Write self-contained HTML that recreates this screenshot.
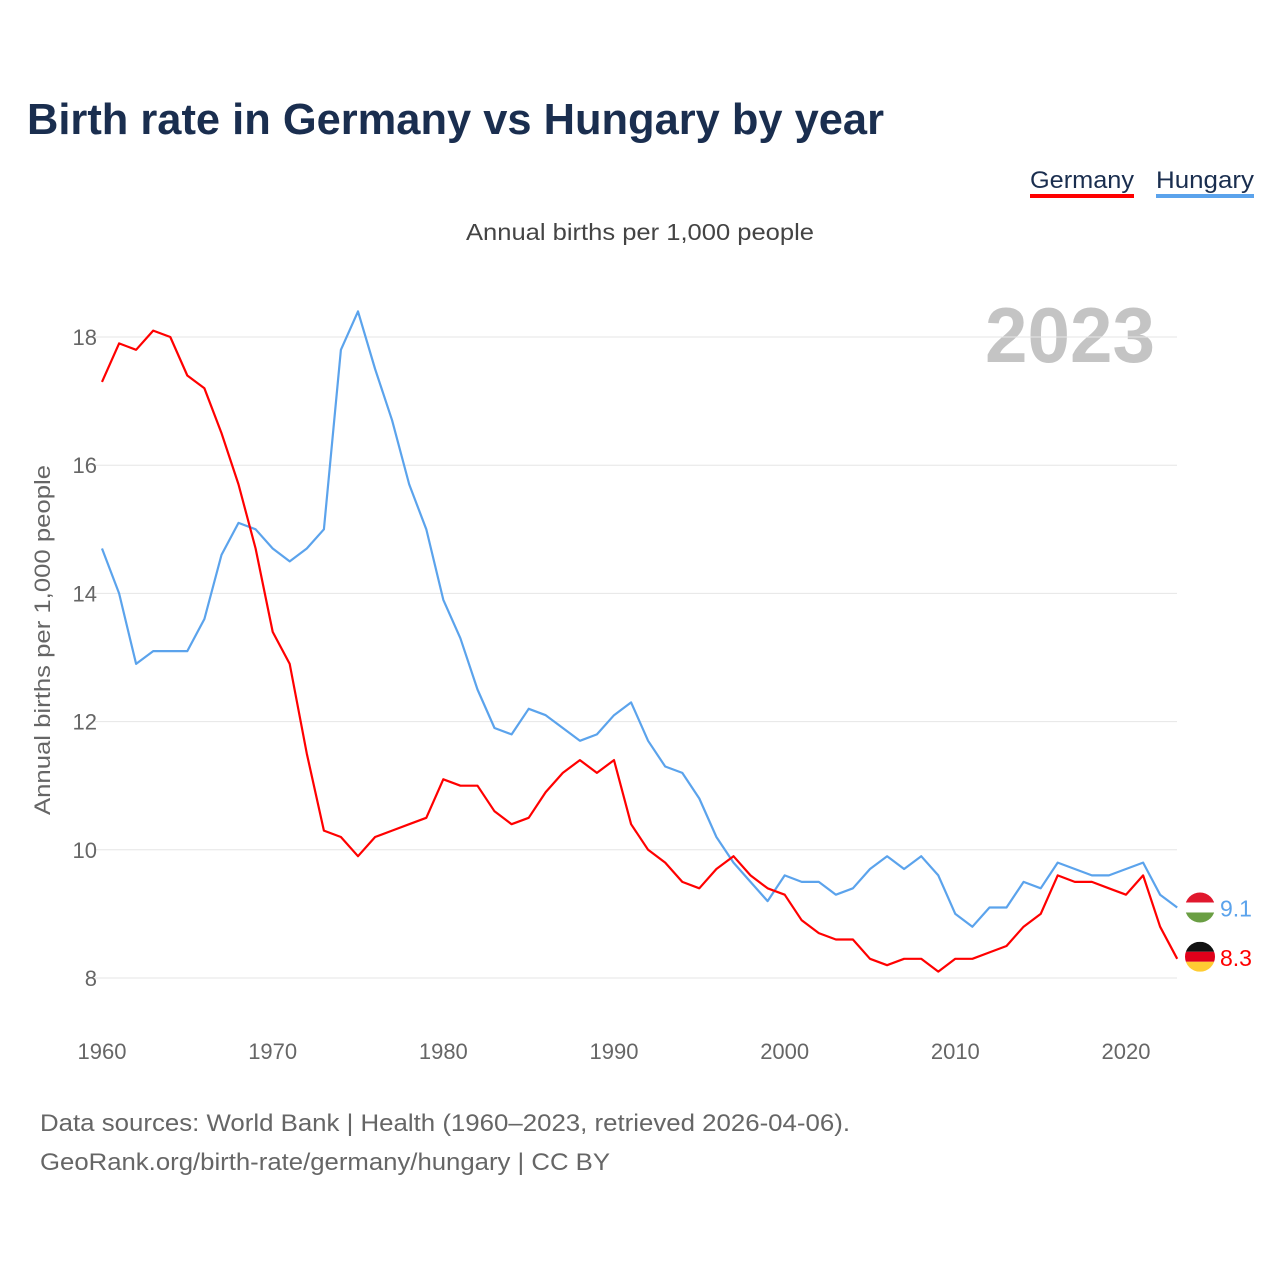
<!DOCTYPE html>
<html><head><meta charset="utf-8">
<style>
body{margin:0;background:#fff;font-family:"Liberation Sans",sans-serif;}
svg{display:block}
</style></head>
<body>
<svg id="chart" width="1280" height="1280" viewBox="0 0 1280 1280">
  <text x="27" y="134" font-size="44" font-weight="bold" fill="#1a2e4f" textLength="857" lengthAdjust="spacingAndGlyphs">Birth rate in Germany vs Hungary by year</text>
  <g>
    <text x="1030" y="188" font-size="24" fill="#1a2e4f" textLength="104" lengthAdjust="spacingAndGlyphs">Germany</text>
    <rect x="1030" y="194" width="104" height="4" fill="#ff0000"/>
    <text x="1156" y="188" font-size="24" fill="#1a2e4f" textLength="98" lengthAdjust="spacingAndGlyphs">Hungary</text>
    <rect x="1156" y="194" width="98" height="4" fill="#5ba3ec"/>
  </g>
  <text x="466" y="240" font-size="23" fill="#444" textLength="348" lengthAdjust="spacingAndGlyphs">Annual births per 1,000 people</text>
  <text x="985" y="362" font-size="78" font-weight="bold" fill="#c4c4c4" textLength="170" lengthAdjust="spacingAndGlyphs">2023</text>
  <text transform="translate(50,815) rotate(-90)" font-size="22" fill="#666" textLength="350" lengthAdjust="spacingAndGlyphs">Annual births per 1,000 people</text>
  <g id="grid"></g>
  <g id="xticks"></g>
  <g id="series"></g>
  <g id="endlabels"></g>
  <text x="40" y="1131" font-size="24" fill="#666" textLength="810" lengthAdjust="spacingAndGlyphs">Data sources: World Bank | Health (1960–2023, retrieved 2026-04-06).</text>
  <text x="40" y="1170" font-size="24" fill="#666" textLength="570" lengthAdjust="spacingAndGlyphs">GeoRank.org/birth-rate/germany/hungary | CC BY</text>
</svg>
<script>
const years = Array.from({length:64},(_,i)=>1960+i);
const germany = [17.3,17.9,17.8,18.1,18.0,17.4,17.2,16.5,15.7,14.7,13.4,12.9,11.5,10.3,10.2,9.9,10.2,10.3,10.4,10.5,11.1,11.0,11.0,10.6,10.4,10.5,10.9,11.2,11.4,11.2,11.4,10.4,10.0,9.8,9.5,9.4,9.7,9.9,9.6,9.4,9.3,8.9,8.7,8.6,8.6,8.3,8.2,8.3,8.3,8.1,8.3,8.3,8.4,8.5,8.8,9.0,9.6,9.5,9.5,9.4,9.3,9.6,8.8,8.3];
const hungary = [14.7,14.0,12.9,13.1,13.1,13.1,13.6,14.6,15.1,15.0,14.7,14.5,14.7,15.0,17.8,18.4,17.5,16.7,15.7,15.0,13.9,13.3,12.5,11.9,11.8,12.2,12.1,11.9,11.7,11.8,12.1,12.3,11.7,11.3,11.2,10.8,10.2,9.8,9.5,9.2,9.6,9.5,9.5,9.3,9.4,9.7,9.9,9.7,9.9,9.6,9.0,8.8,9.1,9.1,9.5,9.4,9.8,9.7,9.6,9.6,9.7,9.8,9.3,9.1];
const yTicks = [8,10,12,14,16,18];
const xTicks = [1960,1970,1980,1990,2000,2010,2020];

const NS="http://www.w3.org/2000/svg";
const xs = y => 102 + (y-1960)*(1126-102)/60;
const ys = v => 978 - (v-8)*(978-337)/10;
function mk(tag,attrs,parent){const e=document.createElementNS(NS,tag);for(const k in attrs)e.setAttribute(k,attrs[k]);parent.appendChild(e);return e;}

const grid=document.getElementById('grid');
yTicks.forEach(t=>{
  const l=mk('line',{x1:95,x2:1177,y1:ys(t),y2:ys(t),stroke:'#e6e6e6','stroke-width':1},grid);
  
  
  const tx=mk('text',{x:97,y:ys(t)+8,'font-size':22,fill:'#666','text-anchor':'end'},grid);
  tx.textContent=t;
  
  
});
const xt=document.getElementById('xticks');
xTicks.forEach(t=>{
  const tx=mk('text',{x:xs(t),y:1059,'font-size':22,fill:'#666','text-anchor':'middle'},xt);
  tx.textContent=t;
  
  
});
const ser=document.getElementById('series');
function line(data,color,name){
  const d=data.map((v,i)=>(i?'L':'M')+xs(years[i]).toFixed(1)+' '+ys(v).toFixed(1)).join(' ');
  const p=mk('path',{d:d,fill:'none',stroke:color,'stroke-width':2.2,'stroke-linejoin':'round'},ser);
  
  
}
line(hungary,'#5ba3ec','hungary-line');
line(germany,'#ff0000','germany-line');

const el=document.getElementById('endlabels');
function flag(cx,cy,colors,name,val,color){
  const g=mk('g',{},el);
  
  
  const id='clip-'+name;
  const cp=mk('clipPath',{id:id},g);mk('circle',{cx:cx,cy:cy,r:15},cp);
  colors.forEach((c,i)=>mk('rect',{x:cx-15,y:cy-15+i*10,width:30,height:10,fill:c,'clip-path':'url(#'+id+')'},g));
  const t=mk('text',{x:cx+20,y:cy+9,'font-size':23,fill:color},el);
  t.textContent=val;
  
  
}
flag(1200,ys(hungary[63]),['#e0182d','#ffffff','#6a9e43'],'hungary',hungary[63].toFixed(1),'#5ba3ec');
flag(1200,ys(germany[63])-2,['#111111','#e0001a','#ffcc33'],'germany',germany[63].toFixed(1),'#ff0000');
</script>
</body></html>
